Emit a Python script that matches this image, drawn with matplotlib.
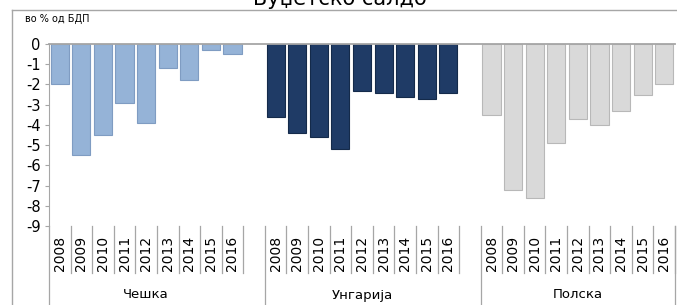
import matplotlib.pyplot as plt
import numpy as np
from matplotlib.lines import Line2D

years = ['2008', '2009', '2010', '2011', '2012', '2013', '2014', '2015', '2016']
countries = ['Чешка', 'Унгарија', 'Полска']
czech = [-2.0, -5.5, -4.5, -2.9, -3.9, -1.2, -1.8, -0.3, -0.5]
hungary = [-3.6, -4.4, -4.6, -5.2, -2.3, -2.4, -2.6, -2.7, -2.4]
poland = [-3.5, -7.2, -7.6, -4.9, -3.7, -4.0, -3.3, -2.5, -2.0]
colors = ['#95B3D7', '#1F3B66', '#D9D9D9']
edges = ['#7F9CC2', '#142A4A', '#B8B8B8']

W, H = 677, 305
fig = plt.figure(figsize=(W / 100, H / 100), dpi=100)
plt.rcParams['font.family'] = ['DejaVu Sans']

# axes placed in pixel terms
left, right, top, bottom = 49, 675, 44, 226
ax = fig.add_axes([left / W, 1 - bottom / H, (right - left) / W, (bottom - top) / H])

n = len(years)
gray = '#A6A6A6'
for g, vals in enumerate([czech, hungary, poland]):
    x = np.arange(n) + g * (n + 1)
    ax.bar(x, vals, width=0.84, color=colors[g], edgecolor=edges[g], linewidth=0.8, zorder=2)

ax.set_xlim(-0.5, 3 * n + 2 - 0.5)
ax.set_ylim(-9, 0)
ax.set_yticks(np.arange(0, -10, -1))
ax.set_yticklabels([str(v) for v in range(0, -10, -1)], fontsize=10.5)
ax.tick_params(axis='y', length=3, color=gray, pad=3)
ax.set_xticks([])
for s in ['top', 'right', 'bottom']:
    ax.spines[s].set_visible(False)
ax.spines['left'].set_color(gray)
ax.axhline(0, color=gray, linewidth=1.3, zorder=5, clip_on=False)

# category area below the plot
tr = ax.get_xaxis_transform()
ph = bottom - top
def fy(p):
    return (bottom - p) / ph

for g in range(3):
    x0 = g * (n + 1)
    for i, yr in enumerate(years):
        ax.text(x0 + i, fy(236), yr, transform=tr, rotation=90, ha='center', va='top',
                fontsize=10, clip_on=False)
    for i in range(1, n + 1):
        ax.add_line(Line2D([x0 + i - 0.5] * 2, [fy(226), fy(273)], transform=tr,
                           color=gray, linewidth=0.9, clip_on=False))
    ax.add_line(Line2D([x0 - 0.5] * 2, [fy(226), fy(305)], transform=tr,
                       color=gray, linewidth=0.9, clip_on=False))
    ax.text(x0 + (n - 1) / 2, fy(295), countries[g], transform=tr, ha='center', va='center',
            fontsize=9.5, clip_on=False)
ax.add_line(Line2D([3 * n + 1.5] * 2, [fy(226), fy(305)], transform=tr,
                   color=gray, linewidth=0.9, clip_on=False))

# chart border and texts
fig.add_artist(Line2D([12 / W, 12 / W], [0, 1 - 10 / H], color=gray, linewidth=1.0))
fig.add_artist(Line2D([12 / W, 1], [1 - 10 / H, 1 - 10 / H], color=gray, linewidth=1.0))
fig.text(25 / W, 1 - 19 / H, 'во % од БДП', fontsize=7, va='center', ha='left')
fig.text(340 / W, 1 + 1 / H, 'Буџетско салдо', fontsize=15, va='center', ha='center')

fig.savefig('out.png', dpi=100)
